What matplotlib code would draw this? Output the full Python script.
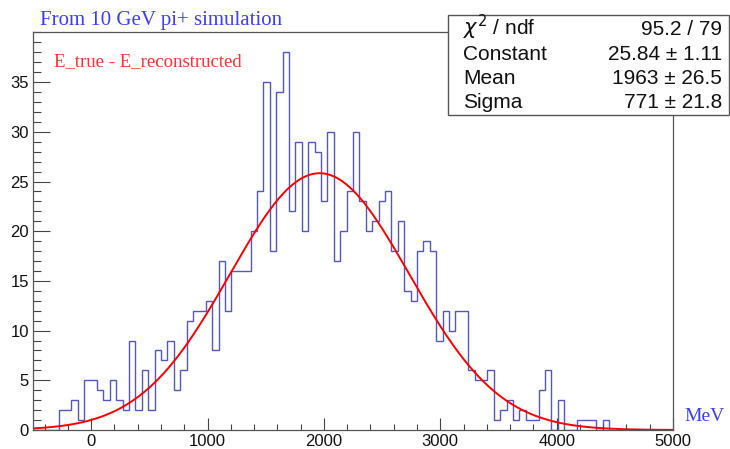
import numpy as np
import matplotlib
matplotlib.use("Agg")
import matplotlib.pyplot as plt
from matplotlib.ticker import MultipleLocator, FixedLocator
from matplotlib.patches import Rectangle

# ---- data ----
bin_low = -500.0
bin_high = 5000.0
counts = [0, 0, 0, 0, 2, 2, 3, 1, 5, 5,
          4, 3, 5, 3, 2, 9, 2, 6, 2, 8,
          7, 9, 4, 6, 11, 12, 12, 13, 8, 17,
          12, 16, 16, 16, 20, 24, 35, 18, 34, 38,
          22, 29, 20, 29, 28, 23, 30, 17, 20, 24,
          30, 23, 20, 21, 23, 24, 18, 21, 14, 13,
          18, 19, 18, 9, 12, 10, 12, 12, 6, 5,
          5, 6, 1, 2, 3, 1, 2, 1, 1, 4,
          6, 0, 3, 0, 0, 1, 1, 1, 0, 1,
          0, 0, 0, 0, 0, 0, 0, 0, 0, 0]
fit_constant = 25.84
fit_mean = 1963.0
fit_sigma = 771.0
stat_labels = ["$\\chi^{2}$ / ndf", "Constant", "Mean", "Sigma"]
stat_values = ["95.2 / 79", "25.84 \u00b1 1.11", "1963 \u00b1 26.5", "771 \u00b1 21.8"]
x_ticks = [0, 1000, 2000, 3000, 4000, 5000]
y_ticks = [0, 5, 10, 15, 20, 25, 30, 35]
title = "From 10 GeV pi+ simulation"
legend_text = "E_true - E_reconstructed"
x_unit = "MeV"

W, H = 730, 449
fig = plt.figure(figsize=(W / 100, H / 100), dpi=100)
fig.patch.set_facecolor("white")

L, R, T, B = 33, 673, 32, 430
ax = fig.add_axes([L / W, 1 - B / H, (R - L) / W, (B - T) / H])

edges = np.linspace(bin_low, bin_high, len(counts) + 1)
ax.stairs(counts, edges, color="#5555c4", lw=1.0, baseline=0)

xf = np.linspace(bin_low, bin_high, 1200)
yf = fit_constant * np.exp(-0.5 * ((xf - fit_mean) / fit_sigma) ** 2)
ax.plot(xf, yf, color="#ff0000", lw=1.4, solid_capstyle="butt")

ax.set_xlim(bin_low, bin_high)
ax.set_ylim(0, 40.05)

ax.xaxis.set_major_locator(FixedLocator(x_ticks))
ax.xaxis.set_minor_locator(MultipleLocator(200))
ax.yaxis.set_major_locator(FixedLocator(y_ticks))
ax.yaxis.set_minor_locator(MultipleLocator(1))

tickfont = "Liberation Sans"
ax.tick_params(axis="x", which="major", direction="in", length=8.3, width=0.8,
               color="#444444", pad=3, labelsize=12, labelcolor="#111111")
ax.tick_params(axis="x", which="minor", direction="in", length=4.2, width=0.8,
               color="#444444")
ax.tick_params(axis="y", which="major", direction="in", length=12.2, width=0.8,
               color="#444444", pad=3, labelsize=12, labelcolor="#111111")
ax.tick_params(axis="y", which="minor", direction="in", length=6.1, width=0.8,
               color="#444444")
for lab in ax.get_xticklabels() + ax.get_yticklabels():
    lab.set_fontfamily(tickfont)
for sp in ax.spines.values():
    sp.set_color("#555555")
    sp.set_linewidth(0.9)

# title & annotations
fig.text(40 / W, 1 - 25 / H, title, ha="left", va="baseline",
         fontsize=15, family="Liberation Serif", color="#3c3cff")
fig.text(54 / W, 1 - 66.5 / H, legend_text, ha="left", va="baseline",
         fontsize=13.5, family="Liberation Serif", color="#ff3030")
fig.text(725 / W, 1 - 421 / H, x_unit, ha="right", va="baseline",
         fontsize=14, family="Liberation Serif", color="#3c3cff")

# stats box
bx0, by0, bx1, by1 = 448, 15, 729, 115
fig.patches.append(Rectangle((bx0 / W, 1 - by1 / H), (bx1 - bx0) / W, (by1 - by0) / H,
                             transform=fig.transFigure, facecolor="white",
                             edgecolor="#555555", lw=1.0, zorder=5))
baselines = [35, 60, 84.5, 108.5]
for lab, val, yb in zip(stat_labels, stat_values, baselines):
    fig.text(463 / W, 1 - yb / H, lab, ha="left", va="baseline", fontsize=15,
             family="Liberation Sans", color="#111111", zorder=6)
    fig.text(722 / W, 1 - yb / H, val, ha="right", va="baseline", fontsize=15,
             family="Liberation Sans", color="#111111", zorder=6)

fig.savefig("out.png", dpi=100)
